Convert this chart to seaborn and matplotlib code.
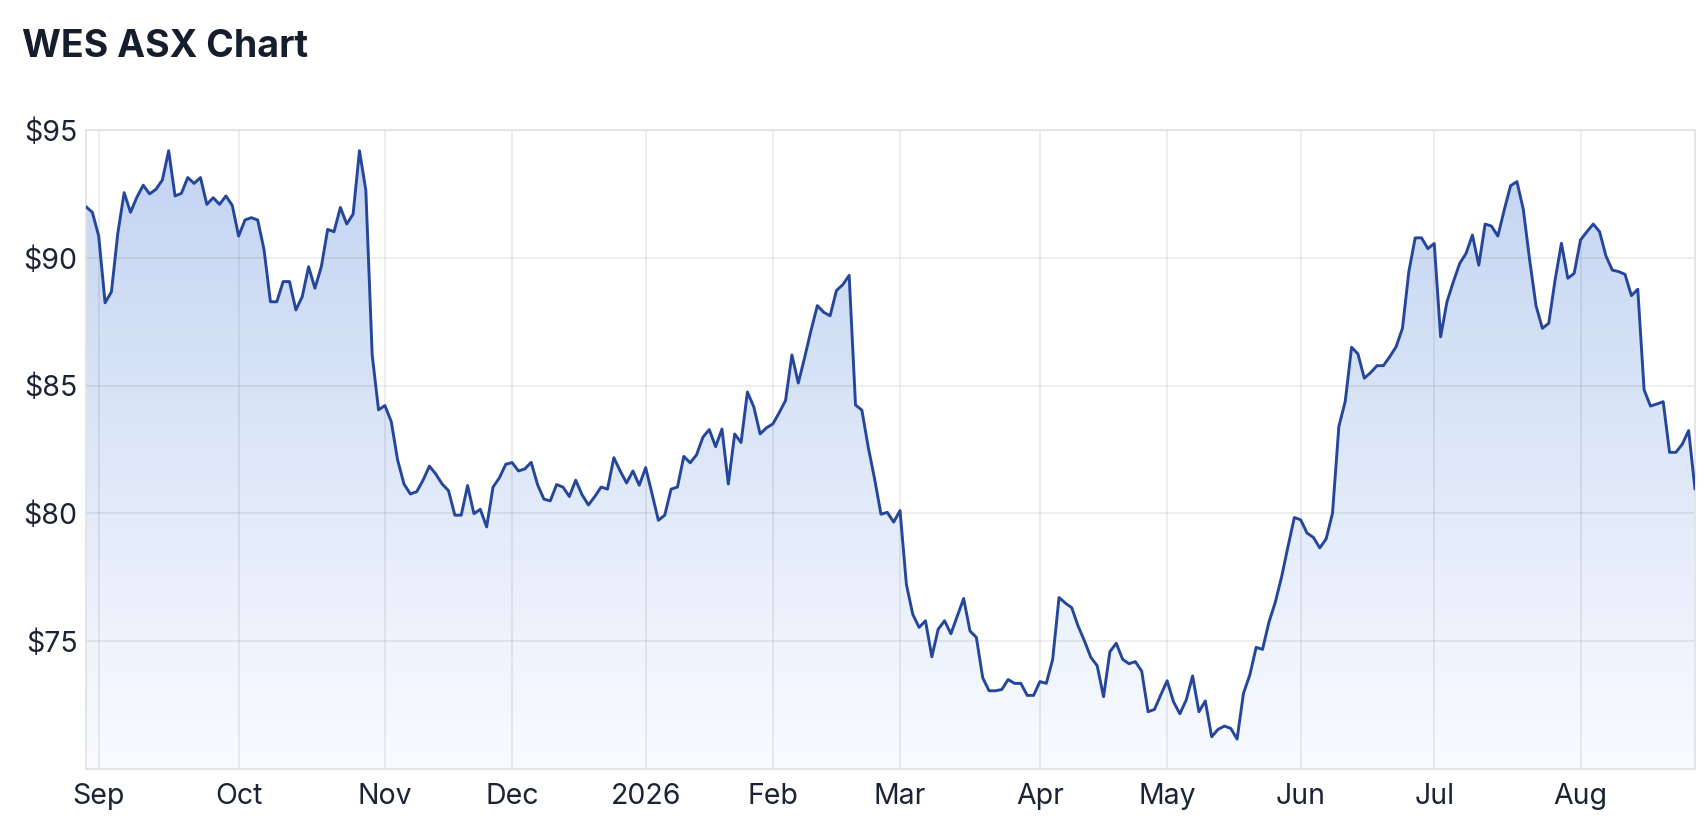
import numpy as np
import pandas as pd
import matplotlib
matplotlib.use("Agg")
import matplotlib.pyplot as plt
from matplotlib.colors import LinearSegmentedColormap
import seaborn as sns

# ---- data (daily closes) ----
START_DATE = "2025-08-28"
END_DATE = "2026-08-27"
ASX_HOLIDAYS = ["2025-12-25", "2025-12-26", "2026-01-01", "2026-01-26",
                "2026-04-03", "2026-04-06", "2026-06-08"]
CLOSE = [
    92.00, 91.78, 90.85, 88.24, 88.67, 90.96, 92.55, 91.78, 92.37, 92.84,
    92.50, 92.68, 93.04, 94.19, 92.42, 92.52, 93.14, 92.91, 93.14, 92.09,
    92.35, 92.09, 92.42, 92.05, 90.85, 91.48, 91.57, 91.48, 90.31, 88.28,
    88.28, 89.07, 89.07, 87.96, 88.48, 89.65, 88.81, 89.65, 91.11, 91.02,
    91.97, 91.32, 91.71, 94.19, 92.65, 86.20, 84.05, 84.22, 83.59, 82.09,
    81.15, 80.76, 80.85, 81.30, 81.85, 81.54, 81.15, 80.89, 79.93, 79.93,
    81.09, 79.99, 80.16, 79.47, 81.03, 81.39, 81.92, 81.99, 81.66, 81.74,
    82.00, 81.13, 80.56, 80.49, 81.13, 81.03, 80.66, 81.30, 80.73, 80.33,
    80.66, 81.03, 80.95, 82.18, 81.66, 81.19, 81.66, 81.10, 81.79, 80.77,
    79.73, 79.93, 80.95, 81.03, 82.23, 81.98, 82.29, 82.98, 83.28, 82.61,
    83.30, 81.15, 83.11, 82.77, 84.75, 84.17, 83.11, 83.35, 83.50, 83.94,
    84.42, 86.20, 85.10, 86.10, 87.16, 88.13, 87.87, 87.73, 88.72, 88.95,
    89.31, 84.24, 84.04, 82.59, 81.35, 79.97, 80.04, 79.66, 80.11, 77.22,
    76.05, 75.54, 75.80, 74.39, 75.47, 75.80, 75.29, 75.98, 76.67, 75.40,
    75.15, 73.57, 73.06, 73.06, 73.11, 73.50, 73.35, 73.35, 72.88, 72.88,
    73.42, 73.35, 74.29, 76.71, 76.49, 76.31, 75.59, 75.01, 74.37, 74.04,
    72.83, 74.59, 74.92, 74.29, 74.12, 74.20, 73.83, 72.24, 72.33, 72.90,
    73.45, 72.63, 72.16, 72.70, 73.64, 72.24, 72.66, 71.26, 71.55, 71.68,
    71.59, 71.17, 72.96, 73.68, 74.76, 74.68, 75.74, 76.52, 77.52, 78.70,
    79.84, 79.75, 79.23, 79.06, 78.65, 79.00, 80.01, 83.40, 84.38, 86.50,
    86.24, 85.29, 85.51, 85.78, 85.78, 86.13, 86.52, 87.24, 89.45, 90.78,
    90.78, 90.36, 90.56, 86.91, 88.28, 89.06, 89.78, 90.17, 90.89, 89.71,
    91.32, 91.24, 90.85, 91.87, 92.82, 92.98, 91.90, 89.92, 88.13, 87.24,
    87.44, 89.13, 90.57, 89.20, 89.39, 90.70, 91.02, 91.32, 91.02, 90.07,
    89.52, 89.46, 89.35, 88.52, 88.77, 84.83, 84.20, 84.28, 84.37, 82.39,
    82.39, 82.71, 83.24, 80.95,
]
MONTH_LABELS = ["Sep", "Oct", "Nov", "Dec", "2026", "Feb", "Mar", "Apr",
                "May", "Jun", "Jul", "Aug"]
Y_TICKS = [75, 80, 85, 90, 95]
Y_MIN, Y_MAX = 70, 95
TITLE = "WES ASX Chart"

# ---- trading-day calendar (ordinal axis) ----
dates = pd.bdate_range(START_DATE, END_DATE)
dates = dates[~dates.isin(pd.to_datetime(ASX_HOLIDAYS))]
n = min(len(dates), len(CLOSE))
df = pd.DataFrame({"date": dates[:n], "close": CLOSE[:n]})
df["idx"] = np.arange(n)
month_key = df["date"].dt.year * 12 + df["date"].dt.month
tick_pos = df.index[month_key.diff().fillna(0) != 0].tolist()[:len(MONTH_LABELS)]

# ---- styling ----
sns.set_theme(style="white")
plt.rcParams["font.family"] = ["Inter", "DejaVu Sans"]

W, H = 1704, 840
fig = plt.figure(figsize=(W / 100, H / 100), dpi=100)
fig.patch.set_facecolor("white")
left_px, right_px, top_px, bot_px = 86, 1695, 130, 769
ax = fig.add_axes([left_px / W, 1 - bot_px / H, (right_px - left_px) / W,
                   (bot_px - top_px) / H])
ax.set_facecolor("white")

LINE_COLOR = "#24469b"
TEXT_COLOR = "#1b2334"

# gradient area fill
poly = ax.fill_between(df["idx"], df["close"], Y_MIN, color="none", lw=0)
cmap = LinearSegmentedColormap.from_list("g", ["#f9fbff", "#dde7f8", "#c1d2f1"])
grad = np.linspace(0, 1, 256).reshape(-1, 1)
im = ax.imshow(grad, extent=[0, n - 1, Y_MIN, Y_MAX], origin="lower",
               aspect="auto", cmap=cmap, zorder=1, interpolation="bilinear")
im.set_clip_path(poly.get_paths()[0], transform=ax.transData)

sns.lineplot(data=df, x="idx", y="close", ax=ax, color=LINE_COLOR,
             linewidth=2.1, zorder=4)

ax.set_xlim(0, n - 1)
ax.set_ylim(Y_MIN, Y_MAX)
ax.set_xticks(tick_pos)
ax.set_xticklabels(MONTH_LABELS)
ax.set_yticks(Y_TICKS)
ax.set_yticklabels([f"${v}" for v in Y_TICKS])
ax.set_xlabel("")
ax.set_ylabel("")

ax.set_axisbelow(False)
ax.grid(True, color="#000000", alpha=0.075, linewidth=1.3)
for s in ax.spines.values():
    s.set_color("#e3e3e3")
    s.set_linewidth(1.3)
    s.set_zorder(3)

ax.tick_params(axis="both", length=0, labelsize=20.5, labelcolor=TEXT_COLOR)
ax.tick_params(axis="x", pad=10)
ax.tick_params(axis="y", pad=6)

fig.text(22 / W, 1 - 57 / H, TITLE, fontsize=27, fontweight="bold",
         color="#161e2e", va="baseline", ha="left")

fig.savefig("out.png", dpi=100, facecolor="white")
